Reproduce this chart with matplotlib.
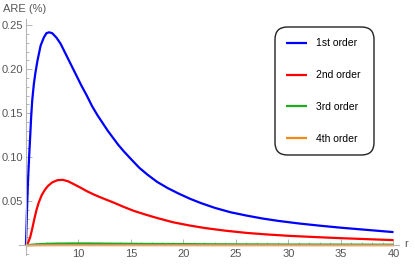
import matplotlib
matplotlib.use("Agg")
import matplotlib.pyplot as plt
from matplotlib.ticker import FixedLocator, MultipleLocator
from matplotlib.patches import FancyBboxPatch

# данные
r_1st = [5.0, 5.05, 5.1, 5.15, 5.2, 5.3, 5.4, 5.5, 5.6, 5.75, 5.9, 6.1, 6.4, 6.7,
         6.95, 7.2, 7.5, 7.9, 8.3, 8.8, 9.3, 9.8, 10.3, 10.8, 11.3, 11.8, 12.3,
         12.8, 13.3, 13.8, 14.3, 15.0, 15.8, 16.6, 17.5, 18.5, 19.5, 20.6, 21.7,
         23.0, 24.5, 26.0, 27.5, 29.0, 31.0, 33.0, 35.0, 37.5, 40.0]
are_1st = [0, 0.02, 0.04, 0.058, 0.074, 0.10, 0.123, 0.147, 0.165, 0.183, 0.196,
           0.210, 0.227, 0.236, 0.241, 0.242, 0.241, 0.236, 0.229, 0.217, 0.205,
           0.193, 0.181, 0.170, 0.158, 0.148, 0.139, 0.130, 0.122, 0.114, 0.107,
           0.098, 0.088, 0.080, 0.072, 0.065, 0.059, 0.053, 0.0478, 0.0425, 0.0375,
           0.0338, 0.0305, 0.0278, 0.0248, 0.0223, 0.0200, 0.0175, 0.0150]
r_2nd = [5.0, 5.2, 5.4, 5.6, 5.8, 6.0, 6.2, 6.5, 6.8, 7.1, 7.5, 8.0, 8.5, 9.0, 9.55,
         10.2, 10.8, 11.5, 12.3, 13.3, 14.3, 15.3, 16.5, 17.5, 19.0, 20.5, 22.0,
         24.0, 26.0, 28.0, 30.0, 32.5, 35.0, 37.5, 40.0]
are_2nd = [0, 0.003, 0.009, 0.019, 0.030, 0.040, 0.048, 0.057, 0.063, 0.0675, 0.0715,
           0.0740, 0.0744, 0.0728, 0.0695, 0.0655, 0.0615, 0.0575, 0.0535, 0.0488,
           0.0437, 0.039, 0.0345, 0.031, 0.0262, 0.0227, 0.0197, 0.0166, 0.0141,
           0.0123, 0.0108, 0.0094, 0.0081, 0.007, 0.0059]
r_low = [5.0, 5.2, 5.5, 5.9, 6.4, 7.0, 7.7, 8.5, 9.5, 10.5, 11.5, 12.5, 14.0, 16.0,
         18.0, 20.0, 22.5, 25.0, 27.5, 30.0, 32.5, 35.0, 37.5, 40.0]
are_3rd = [0, 0.0002, 0.0006, 0.001, 0.0014, 0.0017, 0.0019, 0.002, 0.0021, 0.0021,
           0.002, 0.0019, 0.0018, 0.0016, 0.0015, 0.0014, 0.0012, 0.0011, 0.001,
           0.0009, 0.00085, 0.0008, 0.00075, 0.0007]
are_4th = [0, 0.00003, 0.00008, 0.00013, 0.00017, 0.0002, 0.00022, 0.00024, 0.00025,
           0.00025, 0.00024, 0.00024, 0.00023, 0.00022, 0.00021, 0.0002, 0.00019,
           0.00017, 0.00016, 0.00015, 0.00014, 0.00013, 0.00012, 0.00011]
labels = ["1st order", "2nd order", "3rd order", "4th order"]
colors = ["#0000ff", "#ff0000", "#1faa1f", "#f28a12"]
x_ticks = [10, 15, 20, 25, 30, 35, 40]
y_ticks = [0.05, 0.10, 0.15, 0.20, 0.25]

plt.rcParams['font.family'] = ['Liberation Sans', 'DejaVu Sans']
W, H = 415, 265
fig = plt.figure(figsize=(W / 100, H / 100), dpi=100)
ax = fig.add_axes([18.6 / W, (H - 255) / H, (398.75 - 18.6) / W, (255 - 19.1) / H])

series = [(r_1st, are_1st), (r_2nd, are_2nd), (r_low, are_3rd), (r_low, are_4th)]
for (xs, ys), lab, col in zip(series, labels, colors):
    ax.plot(xs, ys, color=col, lw=1.6, label=lab, solid_joinstyle='round',
            solid_capstyle='butt')

ax.set_xlim(4.3, 40.5)
ax.set_ylim(-0.011, 0.257)

# оси в стиле Mathematica
for s in ['top', 'right']:
    ax.spines[s].set_visible(False)
ax.spines['left'].set_position(('data', 5))
ax.spines['bottom'].set_position(('data', 0))
for s in ['left', 'bottom']:
    ax.spines[s].set_color('#b5b5b5')
    ax.spines[s].set_linewidth(0.8)

ax.xaxis.set_major_locator(FixedLocator(x_ticks))
ax.xaxis.set_minor_locator(MultipleLocator(1))
ax.yaxis.set_major_locator(FixedLocator(y_ticks))
ax.yaxis.set_minor_locator(MultipleLocator(0.01))
ax.set_xticklabels([str(v) for v in x_ticks])
ax.set_yticklabels(['%.2f' % v for v in y_ticks])
ax.tick_params(which='both', direction='in', color='#b5b5b5', width=0.7,
               labelcolor='#555555', labelsize=8)
ax.tick_params(which='major', length=4)
ax.tick_params(which='minor', length=2.2)
ax.tick_params(axis='x', pad=3)
ax.tick_params(axis='y', pad=2)

fig.text(3 / W, 1 - 9 / H, "ARE (%)", color='#555555', fontsize=8, va='center', ha='left')
fig.text(404 / W, 1 - 244 / H, "r", color='#555555', fontsize=8, va='center', ha='left')

# легенда в скруглённой рамке
box = FancyBboxPatch((275 / W, 1 - 155 / H), 99 / W, 128 / H,
                     boxstyle="round,pad=0,rounding_size=0.03",
                     transform=fig.transFigure, fill=False, ec='#222222', lw=1.0,
                     mutation_aspect=W / H)
fig.patches.append(box)
leg = ax.legend(loc='upper left', bbox_to_anchor=(273 / W, 1 - 26 / H),
                bbox_transform=fig.transFigure, frameon=False, fontsize=7.5,
                handlelength=2.1, handletextpad=0.8, labelspacing=2.08,
                borderpad=0.7)

fig.savefig("out.png", dpi=100)
